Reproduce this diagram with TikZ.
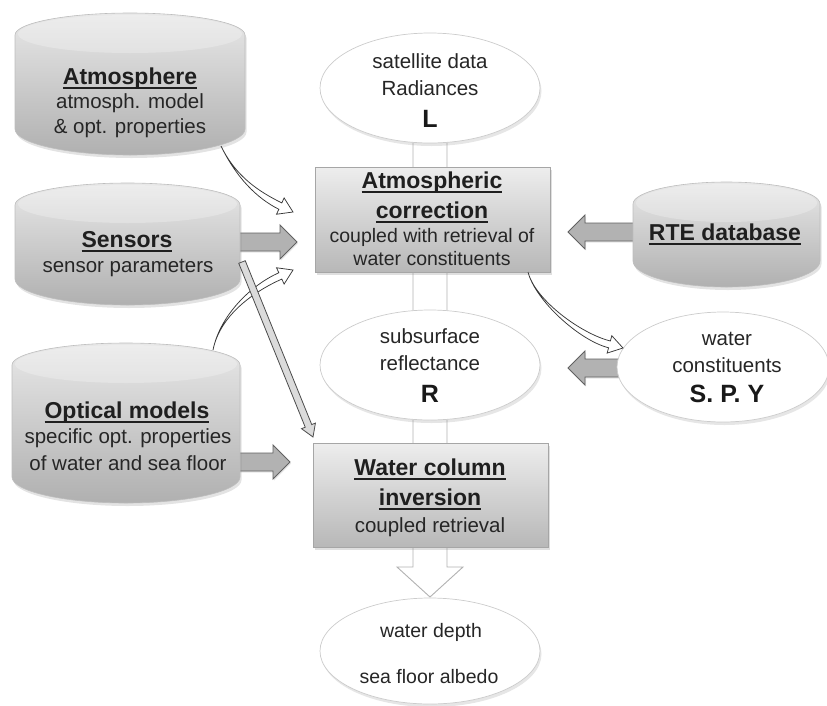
\documentclass[tikz,border=0pt]{standalone}
\usepackage{fontspec}
\setmainfont{Liberation Sans}
\usetikzlibrary{shapes.geometric,shadows,calc}

\newlength\ulw
\newcommand{\hdu}[1]{\settowidth\ulw{#1}\rlap{\rule[-5pt]{\ulw}{1.8pt}}#1}

% cylinder-like box: name, x1, y1, x2, y2
\newcommand{\cyl}[5]{%
  \pgfmathsetmacro\cxm{(#2+#4)/2}%
  \pgfmathsetmacro\cym{(#3+#5)/2}%
  \pgfmathsetmacro\chw{(#4-#2)/2*0.552}%
  \pgfmathsetmacro\cxa{\cxm-\chw}%
  \pgfmathsetmacro\cxb{\cxm+\chw}%
  \pgfmathsetmacro\cww{#4-#2}%
  \pgfmathsetmacro\chh{#5-#3}%
  \pgfmathsetmacro\crx{(#4-#2)/2-3}%
  \path[cylstyle] (#2,#3+22) .. controls (#2,#3+10) and (\cxa,#3) .. (\cxm,#3)
     .. controls (\cxb,#3) and (#4,#3+10) .. (#4,#3+22) -- (#4,#5-26)
     .. controls (#4,#5-12) and (\cxb,#5) .. (\cxm,#5)
     .. controls (\cxa,#5) and (#2,#5-12) .. (#2,#5-26) -- cycle;
  \fill[white,opacity=0.25] (\cxm,#3+21) ellipse [x radius=\crx, y radius=19];
  \node[inner sep=0pt, minimum width=\cww pt, minimum height=\chh pt] (#1) at (\cxm,\cym) {};
}

% horizontal block arrow: x start, x tip, y
\newcommand{\harr}[3]{%
  \pgfmathsetmacro\hdir{(#2>#1)?1:-1}%
  \pgfmathsetmacro\hbx{#2-17*\hdir}%
  \path[blockarr] (#1,#3-9) -- (\hbx,#3-9) -- (\hbx,#3-17) -- (#2,#3)
     -- (\hbx,#3+17) -- (\hbx,#3+9) -- (#1,#3+9) -- cycle;
}

% curved tapering hollow arrow: S, c1, c2, tip, end angle
\newcommand{\carr}[9]{%
  \pgfmathsetmacro\cdx{cos(#9)}%
  \pgfmathsetmacro\cdy{sin(#9)}%
  \pgfmathsetmacro\cex{#7-14*\cdx}%
  \pgfmathsetmacro\cey{#8-14*\cdy}%
  \pgfmathsetmacro\pax{#5-3.5*\cdy}\pgfmathsetmacro\pay{#6+3.5*\cdx}%
  \pgfmathsetmacro\pbx{#5+3.5*\cdy}\pgfmathsetmacro\pby{#6-3.5*\cdx}%
  \pgfmathsetmacro\qax{\cex-3.5*\cdy}\pgfmathsetmacro\qay{\cey+3.5*\cdx}%
  \pgfmathsetmacro\qbx{\cex+3.5*\cdy}\pgfmathsetmacro\qby{\cey-3.5*\cdx}%
  \pgfmathsetmacro\rax{\cex-9*\cdy}\pgfmathsetmacro\ray{\cey+9*\cdx}%
  \pgfmathsetmacro\rbx{\cex+9*\cdy}\pgfmathsetmacro\rby{\cey-9*\cdx}%
  \path[curvarr] (#1,#2) .. controls (#3,#4) and (\pax,\pay) .. (\qax,\qay)
     -- (\rax,\ray) -- (#7,#8) -- (\rbx,\rby)
     -- (\qbx,\qby) .. controls (\pbx,\pby) and (#3,#4) .. (#1,#2) -- cycle;
}

% straight hollow arrow: S, tip
\newcommand{\sarr}[4]{%
  \pgfmathsetmacro\sang{atan2(#4-#2,#3-#1)}%
  \pgfmathsetmacro\cdx{cos(\sang)}%
  \pgfmathsetmacro\cdy{sin(\sang)}%
  \pgfmathsetmacro\cex{#3-12*\cdx}%
  \pgfmathsetmacro\cey{#4-12*\cdy}%
  \pgfmathsetmacro\pax{#1-3.5*\cdy}\pgfmathsetmacro\pay{#2+3.5*\cdx}%
  \pgfmathsetmacro\pbx{#1+3.5*\cdy}\pgfmathsetmacro\pby{#2-3.5*\cdx}%
  \pgfmathsetmacro\qax{\cex-3.5*\cdy}\pgfmathsetmacro\qay{\cey+3.5*\cdx}%
  \pgfmathsetmacro\qbx{\cex+3.5*\cdy}\pgfmathsetmacro\qby{\cey-3.5*\cdx}%
  \pgfmathsetmacro\rax{\cex-7.5*\cdy}\pgfmathsetmacro\ray{\cey+7.5*\cdx}%
  \pgfmathsetmacro\rbx{\cex+7.5*\cdy}\pgfmathsetmacro\rby{\cey-7.5*\cdx}%
  \path[strarr] (\pax,\pay) -- (\qax,\qay) -- (\rax,\ray) -- (#3,#4)
     -- (\rbx,\rby) -- (\qbx,\qby) -- (\pbx,\pby) -- cycle;
}

\begin{document}
\begin{tikzpicture}[x=1pt,y=-1pt,
  cylstyle/.style={top color=black!9, middle color=black!18, bottom color=black!31,
     draw=black!26, line width=0.6pt,
     drop shadow={opacity=0.22, shadow xshift=1.5pt, shadow yshift=-3pt}},
  boxst/.style={rectangle, inner sep=0pt, top color=black!7, bottom color=black!28,
     draw=black!35, line width=0.7pt,
     drop shadow={opacity=0.25, shadow xshift=2pt, shadow yshift=-2.5pt}},
  ell/.style={ellipse, inner sep=0pt, fill=white, draw=black!20, line width=0.7pt,
     drop shadow={opacity=0.2, shadow xshift=1.5pt, shadow yshift=-3pt}},
  blockarr/.style={fill=black!30, draw=black!62, line width=0.9pt,
     drop shadow={opacity=0.2, shadow xshift=1pt, shadow yshift=-1.5pt}},
  curvarr/.style={fill=white, draw=black!78, line width=0.75pt},
  strarr/.style={fill=black!14, draw=black!70, line width=0.8pt},
  pipe/.style={fill=white, draw=black!30, line width=0.9pt},
  lbl/.style={anchor=base, inner sep=0pt, font=\fontsize{20.5}{24}\selectfont, text=black!85},
  lbls/.style={anchor=base, inner sep=0pt, font=\fontsize{19.5}{24}\selectfont, text=black!85},
  hdg/.style={anchor=base, inner sep=0pt, font=\fontsize{23}{28}\selectfont\bfseries, text=black!88},
  bigl/.style={anchor=base, inner sep=0pt, font=\fontsize{25}{30}\selectfont\bfseries, text=black!90}
]
\useasboundingbox (0,0) rectangle (827,705);

\path (430,88) coordinate (satc) (430,651) coordinate (depc);

% big white arrow running down the centre
\path[pipe] ([shift={(-17,0)}]satc) -- ([shift={(-17,-84)}]depc) -- ([shift={(-33,-84)}]depc)
   -- ([shift={(0,-54)}]depc) -- ([shift={(33,-84)}]depc) -- ([shift={(17,-84)}]depc)
   -- ([shift={(17,0)}]satc) -- cycle;

% grey block arrows (start hidden under their source shapes)
\harr{232}{297}{242}
\harr{645}{568}{232}
\harr{632}{568}{368}
\harr{232}{290}{462}

% cylinders
\cyl{atm}{15}{13}{245}{155}
\cyl{sens}{15}{183}{240}{305}
\cyl{opt}{12}{343}{240}{503}
\cyl{rte}{633}{182}{820}{287}

% ellipses
\node[ell, minimum width=220pt, minimum height=110pt] (sat) at (satc) {};
\node[ell, minimum width=220pt, minimum height=110pt] (sub) at (430,365) {};
\node[ell, minimum width=212pt, minimum height=110pt] (wcon) at (723,367) {};
\node[ell, minimum width=220pt, minimum height=106pt] (dep) at (depc) {};

% boxes
\node[boxst, minimum width=235pt, minimum height=105pt] (ac) at (432.5,219.5) {};
\node[boxst, minimum width=235pt, minimum height=104pt] (wc) at (430.5,495) {};

% curved hollow arrows
\carr{221}{146}{236}{177}{258}{195}{293}{212}{25}
\carr{213}{350}{220}{315}{253}{288}{293}{270}{-25}
\carr{528}{272}{535}{300}{580}{337}{623}{348}{15}

% straight hollow arrow sensors -> water column inversion
\sarr{242}{262}{313}{437}

% texts
\node[hdg] (atmA) at (130,84) {\hdu{Atmosphere}};
\node[lbl] (atmB) at (130,108) {atmosph. model};
\node[lbl] (atmC) at (130,133) {\& opt. properties};
\node[hdg] (sensA) at (127,247) {\hdu{Sensors}};
\node[lbl] (sensB) at (128,272) {sensor parameters};
\node[hdg] (optA) at (127,418) {\hdu{Optical models}};
\node[lbl] (optB) at (128,443) {specific opt. properties};
\node[lbl] (optC) at (128,470) {of water and sea floor};
\node[hdg] (rteA) at (725,240) {\hdu{RTE database}};
\node[lbl] (satA) at (430,68) {satellite data};
\node[lbl] (satB) at (430,95) {Radiances};
\node[bigl] (satC) at (430,127) {L};
\node[hdg] (acA) at (432,188) {\hdu{Atmospheric}};
\node[hdg] (acB) at (432,218) {\hdu{correction}};
\node[lbls] (acC) at (432,242) {coupled with retrieval of};
\node[lbls] (acD) at (432,265) {water constituents};
\node[lbl] (subA) at (430,343) {subsurface};
\node[lbl] (subB) at (430,370) {reflectance};
\node[bigl] (subC) at (430,402) {R};
\node[lbl] (wcoA) at (727,345) {water};
\node[lbl] (wcoB) at (727,372) {constituents};
\node[bigl] (wcoC) at (727,402) {S. P. Y};
\node[hdg] (wcA) at (430,475) {\hdu{Water column}};
\node[hdg] (wcB) at (430,505) {\hdu{inversion}};
\node[lbl] (wcC) at (430,532) {coupled retrieval};
\node[lbls] (depA) at (431,637) {water depth};
\node[lbls] (depB) at (429,683) {sea floor albedo};
\end{tikzpicture}
\end{document}
